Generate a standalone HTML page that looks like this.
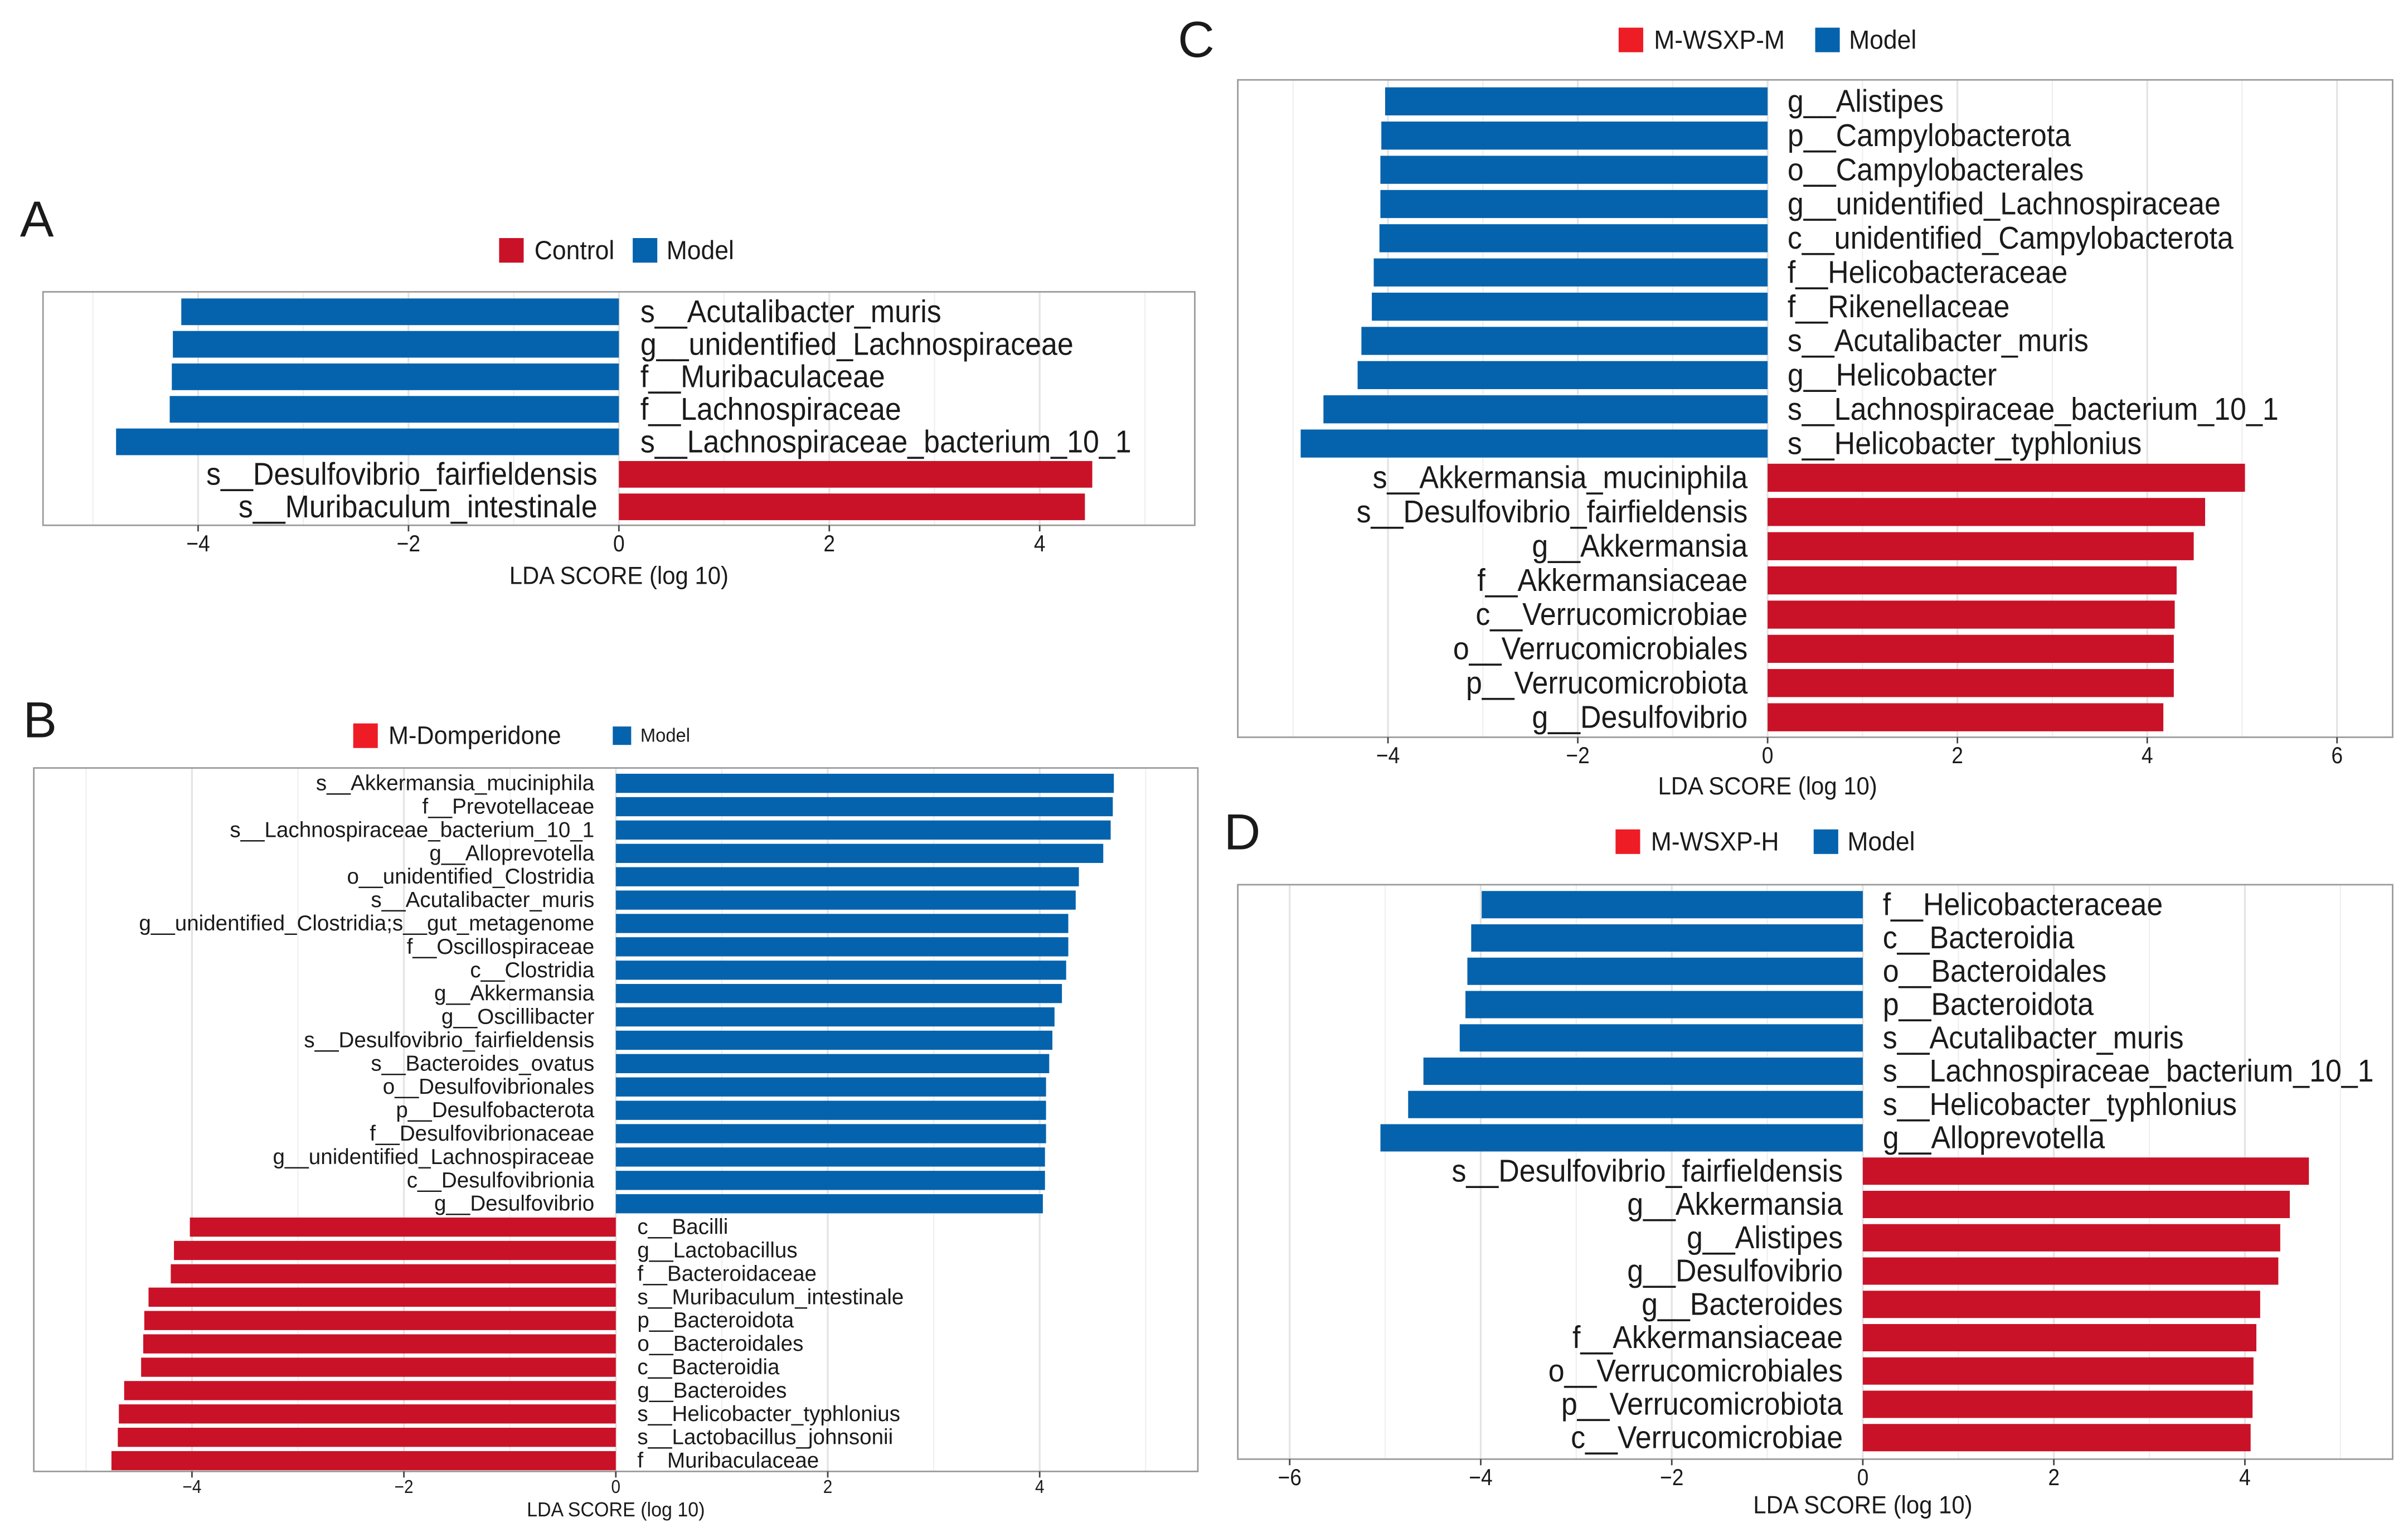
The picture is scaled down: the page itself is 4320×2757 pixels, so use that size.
<!DOCTYPE html>
<html><head><meta charset="utf-8"><style>
html,body{margin:0;padding:0;background:#fff;}
svg{display:block;}
text{font-family:"Liberation Sans",Arial,sans-serif;fill:#1a1a1a;}
</style></head>
<body>
<svg id="fig" width="4320" height="2757" viewBox="0 0 1568 1000.7" xmlns="http://www.w3.org/2000/svg"></svg>
<script>
// ---- Panel A data ----
const aLabels = ["s__Acutalibacter_muris","g__unidentified_Lachnospiraceae","f__Muribaculaceae","f__Lachnospiraceae","s__Lachnospiraceae_bacterium_10_1","s__Desulfovibrio_fairfieldensis","s__Muribaculum_intestinale"];
const aValues = [-4.16,-4.24,-4.25,-4.27,-4.78,4.50,4.43];
const aTicks = [-4,-2,0,2,4];
const aLegend = ["Control","Model"];
// ---- Panel B data ----
const bLabels = ["s__Akkermansia_muciniphila","f__Prevotellaceae","s__Lachnospiraceae_bacterium_10_1","g__Alloprevotella","o__unidentified_Clostridia","s__Acutalibacter_muris","g__unidentified_Clostridia;s__gut_metagenome","f__Oscillospiraceae","c__Clostridia","g__Akkermansia","g__Oscillibacter","s__Desulfovibrio_fairfieldensis","s__Bacteroides_ovatus","o__Desulfovibrionales","p__Desulfobacterota","f__Desulfovibrionaceae","g__unidentified_Lachnospiraceae","c__Desulfovibrionia","g__Desulfovibrio","c__Bacilli","g__Lactobacillus","f__Bacteroidaceae","s__Muribaculum_intestinale","p__Bacteroidota","o__Bacteroidales","c__Bacteroidia","g__Bacteroides","s__Helicobacter_typhlonius","s__Lactobacillus_johnsonii","f__Muribaculaceae"];
const bValues = [4.70,4.69,4.67,4.60,4.37,4.34,4.27,4.27,4.25,4.21,4.14,4.12,4.09,4.06,4.06,4.06,4.05,4.05,4.03,-4.02,-4.17,-4.20,-4.41,-4.45,-4.46,-4.48,-4.64,-4.69,-4.70,-4.76];
const bTicks = [-4,-2,0,2,4];
const bLegend = ["M-Domperidone","Model"];
// ---- Panel C data ----
const cLabels = ["g__Alistipes","p__Campylobacterota","o__Campylobacterales","g__unidentified_Lachnospiraceae","c__unidentified_Campylobacterota","f__Helicobacteraceae","f__Rikenellaceae","s__Acutalibacter_muris","g__Helicobacter","s__Lachnospiraceae_bacterium_10_1","s__Helicobacter_typhlonius","s__Akkermansia_muciniphila","s__Desulfovibrio_fairfieldensis","g__Akkermansia","f__Akkermansiaceae","c__Verrucomicrobiae","o__Verrucomicrobiales","p__Verrucomicrobiota","g__Desulfovibrio"];
const cValues = [-4.03,-4.07,-4.08,-4.08,-4.09,-4.15,-4.17,-4.28,-4.32,-4.68,-4.92,5.03,4.61,4.49,4.31,4.29,4.28,4.28,4.17];
const cTicks = [-4,-2,0,2,4,6];
const cLegend = ["M-WSXP-M","Model"];
// ---- Panel D data ----
const dLabels = ["f__Helicobacteraceae","c__Bacteroidia","o__Bacteroidales","p__Bacteroidota","s__Acutalibacter_muris","s__Lachnospiraceae_bacterium_10_1","s__Helicobacter_typhlonius","g__Alloprevotella","s__Desulfovibrio_fairfieldensis","g__Akkermansia","g__Alistipes","g__Desulfovibrio","g__Bacteroides","f__Akkermansiaceae","o__Verrucomicrobiales","p__Verrucomicrobiota","c__Verrucomicrobiae"];
const dValues = [-3.99,-4.10,-4.14,-4.16,-4.22,-4.60,-4.76,-5.05,4.67,4.47,4.37,4.35,4.16,4.12,4.09,4.08,4.06];
const dTicks = [-6,-4,-2,0,2,4];
const dLegend = ["M-WSXP-H","Model"];

const NS="http://www.w3.org/2000/svg";
const svg=document.getElementById('fig');
const BLUE="#0563ad", RED="#c91227";
function mk(tag,attrs,parent){const e=document.createElementNS(NS,tag);for(const k in attrs)e.setAttribute(k,attrs[k]);(parent||svg).appendChild(e);return e;}
function txt(parent,x,y,s,size,anchor,sx){
  const g=mk('g',{transform:`translate(${x},${y}) scale(${sx},1)`},parent);
  const t=mk('text',{x:0,y:0,'font-size':size,'text-anchor':anchor,'dominant-baseline':'central'},g);
  t.textContent=s;return t;
}
function panel(o){
  const g=mk('g',{});
  
  
  const xs=v=>o.x0+v*o.ppu;
  const L=mk('text',{x:o.letter[0],y:o.letter[1],'font-size':33,'dominant-baseline':'central',fill:'#000'},g);
  L.textContent=o.id.toUpperCase();
  
  
  const lg=mk('g',{},g);
  
  
  const ly=o.legend.y;
  const lr=mk('rect',{x:o.legend.rx,y:ly-o.legend.sq/2,width:o.legend.sq,height:o.legend.sq,fill:o.legend.red},lg);
  
  
  const t1=txt(lg,o.legend.rx+o.legend.sq+7,ly,o.legendNames[0],o.legend.fs1,'start',0.95);
  
  
  const lb=mk('rect',{x:o.legend.bx,y:ly-o.legend.sqb/2,width:o.legend.sqb,height:o.legend.sqb,fill:BLUE},lg);
  
  
  const t2=txt(lg,o.legend.bx+o.legend.sqb+6,ly,o.legendNames[1],o.legend.fs2,'start',0.95);
  
  
  const bg=mk('rect',{x:o.box[0],y:o.box[1],width:o.box[2]-o.box[0],height:o.box[3]-o.box[1],fill:'#fff'},g);
  
  
  const lo=Math.ceil((o.box[0]-o.x0)/o.ppu), hi=Math.floor((o.box[2]-o.x0)/o.ppu);
  for(let v=lo;v<=hi;v++){
    const gl=mk('line',{x1:xs(v),x2:xs(v),y1:o.box[1],y2:o.box[3],stroke:v%2===0?'#e4e4e4':'#efefef','stroke-width':v%2===0?1.2:0.8},g);
    
    
  }
  const n=o.labels.length;
  const step=(o.rows[1]-o.rows[0])/(n-1);
  const bh=step*0.82;
  o.labels.forEach((lab,i)=>{
    const v=o.values[i], cy=o.rows[0]+i*step;
    const neg=v<0;
    const col=(neg===o.negBlue)?BLUE:RED;
    const r=mk('rect',{x:Math.min(xs(0),xs(v)),y:cy-bh/2,width:Math.abs(xs(v)-xs(0)),height:bh,fill:col},g);
    
    
    const t=neg?txt(g,xs(0)+o.pad,cy,lab,o.fs,'start',o.sx):txt(g,xs(0)-o.pad,cy,lab,o.fs,'end',o.sx);
    
    
  });
  const br=mk('rect',{x:o.box[0],y:o.box[1],width:o.box[2]-o.box[0],height:o.box[3]-o.box[1],fill:'none',stroke:'#9a9a9a','stroke-width':1},g);
  
  
  o.ticks.forEach(v=>{
    const tm=mk('line',{x1:xs(v),x2:xs(v),y1:o.box[3],y2:o.box[3]+4,stroke:'#444','stroke-width':1},g);
    
    
    const tl=txt(g,xs(v),o.tickY,(v<0?'\u2212':'')+Math.abs(v),o.tfs,'middle',0.9);
    tl.setAttribute('fill','#4d4d4d');
    
    
  });
  const at=txt(g,xs(0),o.titleY,'LDA SCORE (log 10)',o.ttfs,'middle',0.95);
  
  
}
panel({id:'a',labels:aLabels,values:aValues,ticks:aTicks,legendNames:aLegend,negBlue:true,
  x0:403,ppu:68.5,box:[28,190,778,342],rows:[203,330],fs:20.5,sx:0.92,pad:14,
  letter:[13,143],legend:{y:163,rx:325,bx:412,sq:16,sqb:16,fs1:17,fs2:17,red:RED},
  tickY:354,tfs:15,titleY:375,ttfs:16});
panel({id:'b',labels:bLabels,values:bValues,ticks:bTicks,legendNames:bLegend,negBlue:false,
  x0:401,ppu:69,box:[22,500,780,958],rows:[510,951],fs:14,sx:1.0,pad:14,
  letter:[15,469],legend:{y:479,rx:230,bx:399,sq:16,sqb:12,fs1:16.5,fs2:12.5,red:'#ee1c25'},
  tickY:968,tfs:12,titleY:983,ttfs:13});
panel({id:'c',labels:cLabels,values:cValues,ticks:cTicks,legendNames:cLegend,negBlue:true,
  x0:1151,ppu:61.8,box:[806,52,1558,480],rows:[66,467],fs:20.5,sx:0.92,pad:13,
  letter:[767,26],legend:{y:26,rx:1054,bx:1182,sq:16,sqb:16,fs1:17,fs2:17,red:'#ee1c25'},
  tickY:492,tfs:15,titleY:512,ttfs:16});
panel({id:'d',labels:dLabels,values:dValues,ticks:dTicks,legendNames:dLegend,negBlue:true,
  x0:1213,ppu:62.2,box:[806,576,1558,950],rows:[589,936],fs:20.5,sx:0.92,pad:13,
  letter:[797,542],legend:{y:548,rx:1052,bx:1181,sq:16,sqb:16,fs1:17,fs2:17,red:'#ee1c25'},
  tickY:962,tfs:15,titleY:980,ttfs:16});
</script>
</body></html>
